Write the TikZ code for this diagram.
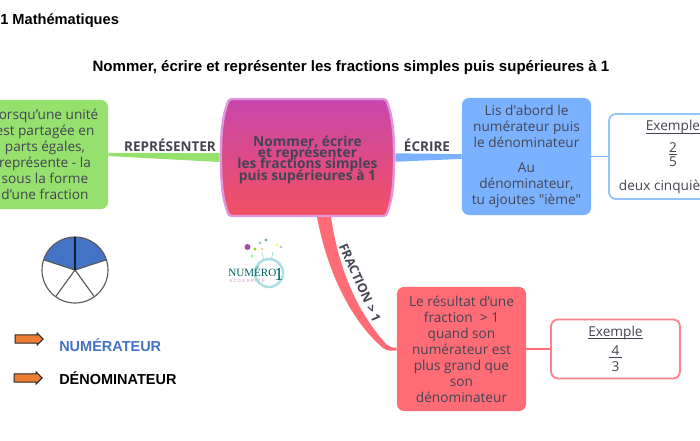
\documentclass[tikz,border=0pt]{standalone}
\usepackage{fontspec}
\setmainfont{Open Sans}
\newfontfamily\ouvert{Open Sans}
\newfontfamily\arialfont{Liberation Sans}
\newfontfamily\logofont{Liberation Serif}
\usetikzlibrary{shapes.arrows}
\newcommand\serre{\lineskiplimit=-20pt\relax}
\definecolor{vertc}{RGB}{150,224,110}
\definecolor{bleuc}{RGB}{122,178,255}
\definecolor{rougec}{RGB}{255,108,118}
\definecolor{encre}{RGB}{68,68,82}
\definecolor{secteur}{RGB}{68,114,196}
\definecolor{orangec}{RGB}{237,125,49}
\definecolor{sarcelle}{RGB}{172,222,228}
\definecolor{hautc}{RGB}{200,70,172}
\definecolor{basc}{RGB}{242,80,98}
\definecolor{bordc}{RGB}{222,150,222}
\tikzset{
  boite/.style={rectangle, rounded corners=5pt, align=center, text=encre, font=\ouvert\fontsize{9.7}{11.35}\selectfont},
  exemple/.style={boite, fill=white, line width=1.3pt},
  lien/.style={font=\fontsize{9.6}{10}\selectfont\bfseries, text=encre, inner sep=0pt},
  legende/.style={font=\arialfont\fontsize{10.3}{11}\selectfont\bfseries, anchor=west, inner sep=0pt},
  fleche/.style={single arrow, draw=black!85, fill=orangec, line width=0.7pt, minimum height=0.7cm, minimum width=0.3cm, single arrow head extend=0.04cm, inner sep=0pt, text height=0.16cm, text depth=0pt}
}
\begin{document}
\begin{tikzpicture}[x=0.025cm, y=-0.025cm]
\useasboundingbox (0,0) rectangle (700,441);
\clip (0,0) rectangle (700,441);

% Titres
\node[font=\arialfont\fontsize{10.4}{12}\selectfont\bfseries, anchor=west, inner sep=0pt] (matiere) at (0,20.5) {1 Mathématiques};
\node[font=\arialfont\fontsize{10.7}{12}\selectfont\bfseries, inner sep=0pt] (titre) at (351,68) {Nommer, écrire et représenter les fractions simples puis supérieures à 1};

% Noeud central
\shade[top color=hautc, bottom color=basc, draw=bordc, line width=1.7pt, rounded corners=2pt]
  (229,99) .. controls (223,115) and (221,130) .. (221,157) .. controls (221,185) and (223,200) .. (229,216) -- (386,216) .. controls (392,200) and (394,185) .. (394,157) .. controls (394,130) and (392,115) .. (386,99) -- cycle;
\node[inner sep=0pt, minimum width=4.375cm, minimum height=2.975cm, align=center, text=encre, font=\fontsize{9.8}{8.1}\selectfont\bfseries\serre] (centre) at (307.5,159.5) {Nommer, écrire\\et représenter\\les fractions simples\\puis supérieures à 1};

% Branches
\node[boite, fill=vertc, minimum width=3.15cm, minimum height=2.725cm] (vert) at (45,154.5) {Lorsqu’une unité\\est partagée en\\parts égales,\\représente - la\\sous la forme\\d’une fraction};
\node[boite, fill=bleuc, minimum width=3.225cm, minimum height=2.925cm] (bleu) at (526.5,156.5) {Lis d'abord le\\numérateur puis\\le dénominateur\\[6pt]Au\\dénominateur,\\tu ajoutes "ième"};
\node[boite, fill=rougec, minimum width=3.225cm, minimum height=3.1cm] (rouge) at (461.5,349) {Le résultat d’une\\fraction \ > 1\\quand son\\numérateur est\\plus grand que\\son\\dénominateur};

% Exemples
\node[exemple, draw=bleuc!80, minimum width=3.2cm, minimum height=2.125cm] (exbleu) at (673,156.5) {\rule{0pt}{8.5pt}\underline{\smash{Exemple}}\\[4.2pt]\underline{2}\\[-1.3pt]5\\[5.6pt]deux cinquièmes};
\node[exemple, draw=rougec!85, minimum width=3.225cm, minimum height=1.475cm] (exrouge) at (615.5,349) {\rule{0pt}{7pt}\underline{\smash{Exemple}}\\[2.1pt]\underline{\,4\,}\\3};

% Liens
\fill[vertc] ([yshift=1.1pt]vert.east) -- ([yshift=4.6pt]centre.west) -- ([yshift=-1.8pt]centre.west) -- ([yshift=-1.1pt]vert.east) -- cycle;
\fill[bleuc] ([yshift=4.4pt]centre.east) -- ([yshift=1.7pt]bleu.west) -- ([yshift=-1.7pt]bleu.west) -- ([yshift=-1.6pt]centre.east) -- cycle;
\draw[bleuc, line width=1.3pt] (bleu.east) -- (exbleu.west);
\draw[rougec, line width=1.3pt] (rouge.east) -- (exrouge.west);
\coordinate (depart) at (324,217);
\fill[rougec] ([xshift=-5pt]depart) .. controls (327,270) and (350,320) .. (383,348) .. controls (387,351) and (391,351) .. ([yshift=-1pt]rouge.west)
  -- ([yshift=1pt]rouge.west) .. controls (393,348) and (390,347) .. (387,345) .. controls (355,310) and (338,265) .. ([xshift=5pt]depart) -- cycle;

% Etiquettes des liens
\node[lien] (lrep) at (170,145) {REPRÉSENTER};
\node[lien] (lecr) at (427,145) {ÉCRIRE};
\node[lien, font=\fontsize{9}{10}\selectfont\bfseries, rotate=-66] (lfra) at (360,283) {FRACTION > 1};

% Disque
\begin{scope}[shift={(75,270)}, y=0.025cm]
\foreach \a in {18,90} {
  \fill[secteur] (0,0) -- (\a:33) arc (\a:\a+72:33) -- cycle;
}
\draw[black!65, line width=0.8pt] (0,0) circle (33);
\foreach \a in {162,234,306,378} {
  \draw[black!65, line width=0.8pt] (0,0) -- (\a:33);
}
\draw[black!75!secteur, line width=0.8pt] (0,0) -- (90:33);
\end{scope}

% Legende
\node[fleche] (fnum) at (27,339) {};
\node[fleche] (fden) at (26,378) {};
\node[legende, text=secteur] (tnum) at (59,345) {NUMÉRATEUR};
\node[legende, text=black] (tden) at (59,378) {DÉNOMINATEUR};

% Logo
\draw[sarcelle, line width=1.8pt] (269,273) circle (14);
\draw[sarcelle, line width=0.6pt] (262,252) -- (264,261);
\draw[sarcelle, line width=0.6pt] (273,252) -- (271,261);
\fill[violet!70] (247.5,247) circle (3);
\foreach \px/\py/\coul in {266/240/teal!60, 262/249/orange!40, 255/249/yellow!60!green, 252/256/green!45, 277/245/yellow!50, 281/247/teal!35, 260/243/teal!40}
  \fill[\coul] (\px,\py) circle (1.6);
\node[inner sep=0pt, anchor=west, text=teal!75!black, font=\logofont\fontsize{7.9}{8}\selectfont] (lnum) at (228,272) {NUMÉRO};
\node[inner sep=0pt, text=teal!75!black, font=\logofont\fontsize{13}{14}\selectfont] (lun) at (279,274) {1};
\node[inner sep=0pt, anchor=west, text=violet!45, font=\arialfont\fontsize{3.2}{4}\selectfont] (lsco) at (229,281) {S C O L A R I T É};
\end{tikzpicture}
\end{document}
